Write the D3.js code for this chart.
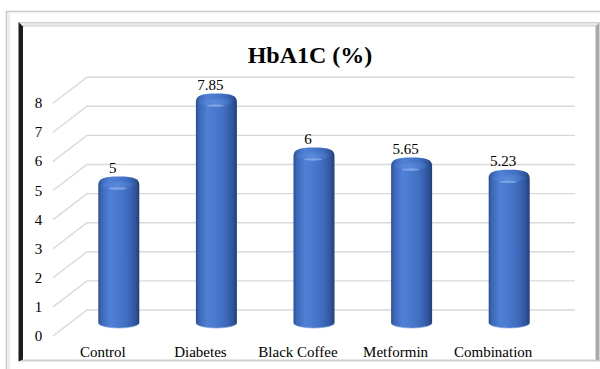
<!DOCTYPE html>
<html>
<head>
<meta charset="utf-8">
<script src="https://cdn.jsdelivr.net/npm/d3@7"></script>
<style>
  html, body { margin: 0; padding: 0; background: #fff; }
  svg { display: block; }
  text { font-family: "Liberation Serif", "Times New Roman", serif; fill: #000; }
</style>
</head>
<body>
<svg id="chart" width="600" height="369"></svg>
<script>
// HbA1C (%) by group
const chartTitle = "HbA1C (%)";
const categories = ["Control", "Diabetes", "Black Coffee", "Metformin", "Combination"];
const values = [5, 7.85, 6, 5.65, 5.23];
const valueLabels = ["5", "7.85", "6", "5.65", "5.23"];
const yTicks = [0, 1, 2, 3, 4, 5, 6, 7, 8];

const W = 600, H = 369;
const svg = d3.select("#chart");
const defs = svg.append("defs");

// depth of the pseudo-3D floor: back wall is offset up/right from the front edge
const depthX = 34, depthY = -26;

// category positions on the back wall
const x = d3.scaleBand().domain(categories).range([87, 575]);
// value positions on the front edge
const y = d3.scaleLinear().domain([0, 8]).range([336, 103.2]);

// ---- frames ----
// outer light frame
svg.append("rect").attr("x", 6.5).attr("y", 11.5).attr("width", 620).attr("height", 400)
  .attr("fill", "none").attr("stroke", "#c9c9c9").attr("stroke-width", 1.6);
svg.append("line").attr("x1", 9).attr("x2", 9).attr("y1", 13).attr("y2", H)
  .attr("stroke", "#e2e2e2").attr("stroke-width", 1.2);

// inner bevelled frame
const fx0 = 18.5, fy0 = 22, fx1 = 599.5, fy1 = 361.5;
const topG = defs.append("linearGradient").attr("id", "frameTop")
  .attr("x1", 0).attr("y1", 0).attr("x2", 0).attr("y2", 1);
topG.append("stop").attr("offset", "0%").attr("stop-color", "#c4c4c4");
topG.append("stop").attr("offset", "45%").attr("stop-color", "#f2f2f2");
topG.append("stop").attr("offset", "100%").attr("stop-color", "#cfcfcf");
svg.append("rect").attr("x", fx0).attr("y", fy0).attr("width", fx1 - fx0).attr("height", fy1 - fy0)
  .attr("fill", "#fff");
svg.append("polygon")
  .attr("points", [[fx0, fy0], [fx1, fy0], [fx1 - 4, fy0 + 4.5], [fx0 + 4.5, fy0 + 4.5]].join(" "))
  .attr("fill", "url(#frameTop)");
svg.append("polygon")
  .attr("points", [[fx1, fy0], [fx1, fy1], [fx1 - 4, fy1 - 2], [fx1 - 4, fy0 + 4.5]].join(" "))
  .attr("fill", "#a9a9a9");
svg.append("polygon")
  .attr("points", [[fx0, fy1], [fx1, fy1], [fx1 - 4, fy1 - 2], [fx0 + 4.5, fy1 - 2]].join(" "))
  .attr("fill", "#cfcfcf");
svg.append("polygon")
  .attr("points", [[fx0, fy0], [fx0 + 4.5, fy0 + 4.5], [fx0 + 4.5, fy1 - 2], [fx0, fy1]].join(" "))
  .attr("fill", "#1c1c1c");

// ---- title ----
svg.append("text").attr("x", 310).attr("y", 63).attr("text-anchor", "middle")
  .style("font-size", "24px").style("font-weight", "bold").text(chartTitle);

// ---- gridlines: diagonal floor edge + back wall line per tick ----
const frontLeft = 53;
const backLeft = frontLeft + depthX;
const grid = svg.append("g").attr("stroke", "#d9d9d9").attr("stroke-width", 1.4).attr("fill", "none");
grid.selectAll("path").data(yTicks).join("path")
  .attr("d", t => `M${frontLeft},${y(t)} L${backLeft},${y(t) + depthY} L${x.range()[1]},${y(t) + depthY}`);

// tick labels
svg.append("g").selectAll("text").data(yTicks).join("text")
  .attr("x", 38.5).attr("y", t => y(t) + 5).attr("text-anchor", "middle")
  .style("font-size", "15px").text(t => t);

// ---- cylinders ----
const bodyG = defs.append("linearGradient").attr("id", "cylBody")
  .attr("x1", 0).attr("y1", 0).attr("x2", 1).attr("y2", 0);
[["0%", "#2a4d90"], ["7%", "#3a66b6"], ["28%", "#4f80d6"], ["45%", "#4a7bd0"],
 ["72%", "#3f6bbd"], ["90%", "#2f559c"], ["100%", "#213f7a"]]
  .forEach(([o, c]) => bodyG.append("stop").attr("offset", o).attr("stop-color", c));

const capG = defs.append("radialGradient").attr("id", "cylCap")
  .attr("cx", "45%").attr("cy", "55%").attr("r", "55%");
capG.append("stop").attr("offset", "0%").attr("stop-color", "#6390de").attr("stop-opacity", 0.8);
capG.append("stop").attr("offset", "70%").attr("stop-color", "#5282d6").attr("stop-opacity", 0.4);
capG.append("stop").attr("offset", "100%").attr("stop-color", "#4a79cc").attr("stop-opacity", 0);

const barW = 41;
const midX = d => x(d) + x.bandwidth() / 2 - depthX / 2;   // bar sits at half depth
const midY = v => y(v) + depthY / 2;

const bars = svg.append("g").selectAll("g").data(categories.map((c, i) => ({ c, v: values[i], label: valueLabels[i] })))
  .join("g");

bars.append("path")
  .attr("d", d => {
    const cx = midX(d.c), xl = cx - barW / 2, xr = cx + barW / 2;
    const yt = midY(d.v) - 1, yb = midY(0);
    return `M${xl},${yt + 9} C${xl},${yt + 2} ${xl + 5},${yt} ${cx},${yt} ` +
           `C${xr - 5},${yt} ${xr},${yt + 2} ${xr},${yt + 9} L${xr},${yb} ` +
           `A${barW / 2},5 0 0 1 ${xl},${yb} Z`;
  })
  .attr("fill", "url(#cylBody)");

// bottom rim light
bars.append("path")
  .attr("d", d => {
    const cx = midX(d.c), xl = cx - barW / 2 + 1, xr = cx + barW / 2 - 1, yb = midY(0);
    return `M${xr},${yb + 0.5} A${barW / 2 - 1},4.5 0 0 1 ${xl},${yb + 0.5}`;
  })
  .attr("fill", "none").attr("stroke", "#6e96dc").attr("stroke-width", 0.9).attr("opacity", 0.7);

// top face
bars.append("ellipse")
  .attr("cx", d => midX(d.c)).attr("cy", d => midY(d.v) + 7)
  .attr("rx", barW / 2 - 3).attr("ry", 5)
  .attr("fill", "url(#cylCap)");
bars.append("ellipse")
  .attr("cx", d => midX(d.c) - 1).attr("cy", d => midY(d.v) + 11)
  .attr("rx", 9).attr("ry", 1.3)
  .attr("fill", "#9dbcf0").attr("opacity", 0.6);

// value labels
bars.append("text")
  .attr("x", d => midX(d.c) - 6).attr("y", d => midY(d.v) - 4.5)
  .attr("text-anchor", "middle").style("font-size", "15px")
  .text(d => d.label);

// ---- category labels on the front edge ----
svg.append("g").selectAll("text").data(categories).join("text")
  .attr("x", c => x(c) + x.bandwidth() / 2 - depthX + 1)
  .attr("y", 357).attr("text-anchor", "middle")
  .style("font-size", "15px").text(c => c);
</script>
</body>
</html>
